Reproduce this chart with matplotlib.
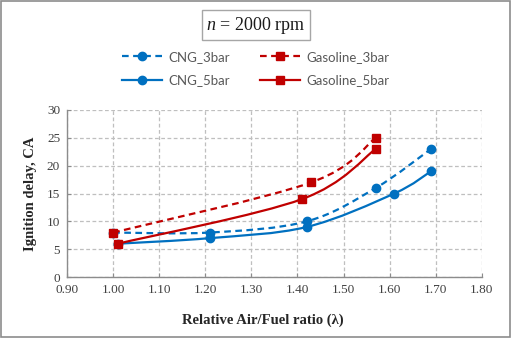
import matplotlib
matplotlib.use("Agg")
import matplotlib.pyplot as plt
from matplotlib.path import Path
from matplotlib.patches import PathPatch, Rectangle
from matplotlib.lines import Line2D
import numpy as np

plt.rcParams["mathtext.fontset"] = "custom"
plt.rcParams["mathtext.it"] = "Liberation Serif:italic"
plt.rcParams["mathtext.rm"] = "Liberation Serif"

# ---- data ----
cng3_x = [1.00, 1.21, 1.42, 1.57, 1.69]
cng3_y = [8, 8, 10, 16, 23]
cng5_x = [1.01, 1.21, 1.42, 1.61, 1.69]
cng5_y = [6, 7, 9, 15, 19]
gas3_x = [1.00, 1.43, 1.57]
gas3_y = [8, 17, 25]
gas5_x = [1.01, 1.41, 1.57]
gas5_y = [6, 14, 23]
x_ticks = [0.90, 1.00, 1.10, 1.20, 1.30, 1.40, 1.50, 1.60, 1.70, 1.80]
y_ticks = [0, 5, 10, 15, 20, 25, 30]

BLUE = "#0070C0"
RED = "#C00000"
SERIF = "Liberation Serif"
SANS = "Lato"

fig = plt.figure(figsize=(5.12, 3.38), dpi=100)
ax = fig.add_axes([0.131, 0.180, 0.810, 0.495])


def smooth_path(xs, ys, t=1.0):
    p = np.column_stack([xs, ys]).astype(float)
    n = len(p)
    verts = [p[0]]
    codes = [Path.MOVETO]
    for i in range(n - 1):
        p0 = p[i - 1] if i > 0 else p[i]
        p1 = p[i]
        p2 = p[i + 1]
        p3 = p[i + 2] if i + 2 < n else p[i + 1]
        c1 = p1 + (p2 - p0) / 6.0 * t
        c2 = p2 - (p3 - p1) / 6.0 * t
        verts += [c1, c2, p2]
        codes += [Path.CURVE4] * 3
    return Path(verts, codes)


series = [
    (cng3_x, cng3_y, BLUE, "o", (0, (3, 2)), "CNG_3bar"),
    (cng5_x, cng5_y, BLUE, "o", "-", "CNG_5bar"),
    (gas3_x, gas3_y, RED, "s", (0, (3, 2)), "Gasoline_3bar"),
    (gas5_x, gas5_y, RED, "s", "-", "Gasoline_5bar"),
]
handles = []
for k, (xs, ys, c, m, ls, lab) in enumerate(series):
    patch = PathPatch(smooth_path(xs, ys), fill=False, edgecolor=c, lw=1.6,
                      linestyle=ls, zorder=3 + k, transform=ax.transData)
    ax.add_patch(patch)
    ax.plot(xs, ys, linestyle="none", marker=m, markersize=6, color=c,
            zorder=3 + k)
    handles.append(Line2D([], [], color=c, lw=1.6, linestyle=ls, marker=m,
                          markersize=6, label=lab))

ax.set_xlim(0.90, 1.80)
ax.set_ylim(0, 30)
ax.set_xticks(x_ticks)
ax.set_xticklabels([f"{v:.2f}" for v in x_ticks])
ax.set_yticks(y_ticks)
ax.set_yticklabels([str(v) for v in y_ticks])
ax.grid(True, color="#BFBFBF", linestyle=(0, (3, 2)), lw=0.9)
ax.set_axisbelow(True)
for s in ["top", "right"]:
    ax.spines[s].set_visible(False)
for s in ["left", "bottom"]:
    ax.spines[s].set_color("#8C8C8C")
    ax.spines[s].set_linewidth(1.0)
ax.tick_params(axis="both", direction="in", length=3, color="#8C8C8C",
               labelsize=9.5, labelcolor="#404040", pad=5)
for lbl in ax.get_xticklabels() + ax.get_yticklabels():
    lbl.set_fontfamily(SERIF)

fig.text(0.514, 0.053, "Relative Air/Fuel ratio (λ)", ha="center", va="center",
         fontsize=10.5, fontweight="bold", family=SERIF, color="#262626")
fig.text(0.060, 0.427, "Ignition delay, CA", ha="center", va="center",
         rotation=90, fontsize=10.5, fontweight="bold", family=SERIF,
         color="#262626")

# title box
fig.text(0.5, 0.925, r"$n$ = 2000 rpm", ha="center", va="center",
         fontsize=13, family=SERIF, color="#1a1a1a",
         bbox=dict(boxstyle="square,pad=0.25", facecolor="white",
                   edgecolor="#A6A6A6", lw=1.0))

leg = fig.legend(handles=handles, loc="center", bbox_to_anchor=(0.5, 0.797),
                 ncol=2, frameon=False, handlelength=3.0, columnspacing=2.3,
                 labelspacing=0.85, prop={"family": SANS, "size": 9.5},
                 handletextpad=0.5)
for txt in leg.get_texts():
    txt.set_color("#595959")

fig.patches.append(Rectangle((0.002, 0.003), 0.995, 0.993, transform=fig.transFigure,
                             fill=False, edgecolor="#8C8C8C", lw=1.2))

fig.savefig("out.png", dpi=100)
